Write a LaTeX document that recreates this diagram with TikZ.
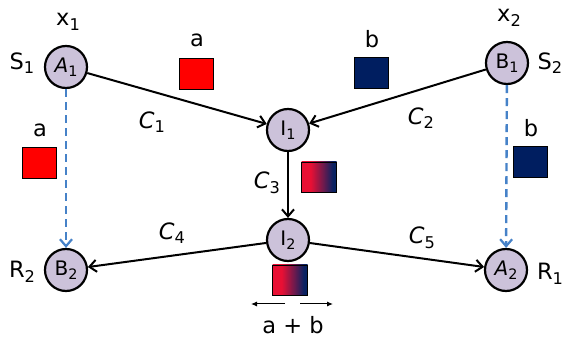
\documentclass[tikz,border=0pt]{standalone}
\usepackage{fontspec}
\setmainfont{DejaVu Sans}
\usetikzlibrary{arrows.meta}
\definecolor{mixred}{RGB}{232,16,52}
\definecolor{mixnavy}{RGB}{8,34,98}
\colorlet{mixmid}{mixred!45!mixnavy}
% red-to-navy mix used for the combined packet
\pgfdeclarehorizontalshading{mixshade}{100bp}{
  color(0bp)=(mixred); color(38bp)=(mixred); color(56bp)=(mixmid);
  color(70bp)=(mixnavy); color(100bp)=(mixnavy)}
\definecolor{nodefill}{RGB}{204,194,218}
\definecolor{pktred}{RGB}{255,0,0}
\definecolor{pktnavy}{RGB}{0,30,96}
\definecolor{dashblue}{RGB}{70,130,200}
% lowered index in the current text font
\newcommand\idx[1]{\raisebox{-0.38ex}{\scalebox{0.72}{\upshape #1}}}
\begin{document}
\begin{tikzpicture}[x=1pt,y=-1pt,
  router/.style={circle,draw=black,line width=2.2pt,fill=nodefill,minimum size=42pt,inner sep=0pt,font=\fontsize{20}{20}\selectfont},
  lbl/.style={font=\fontsize{22.5}{22.5}\selectfont,inner sep=0pt},
  clbl/.style={font=\fontsize{22.5}{22.5}\selectfont\itshape,inner sep=0pt},
  link/.style={line width=2pt,-{Straight Barb[length=7pt,width=12pt,line width=2pt]}},
  copyline/.style={dashblue,line width=2.4pt,dash pattern=on 8pt off 5pt,-{Straight Barb[length=7pt,width=12pt,line width=2.2pt]}},
  pkt/.style={draw=black,line width=0.7pt,minimum width=34pt,minimum height=31pt,inner sep=0pt},
  mixpkt/.style={draw=black,line width=0.7pt,minimum width=35pt,minimum height=30pt,inner sep=0pt,shading=mixshade},
  span/.style={line width=1pt,-{Latex[length=6pt,width=5pt]}}]
\useasboundingbox (0,0) rectangle (566,339);
\fill[white] (0,0) rectangle (566,339);

% routers
\node[router] (A1) at (66,67) {\textit{A}\idx{1}};
\node[router] (B1) at (507,63) {B\idx{1}};
\node[router] (I1) at (288,130) {I\idx{1}};
\node[router] (I2) at (288,240) {I\idx{2}};
\node[router] (B2) at (66,270) {B\idx{2}};
\node[router] (A2) at (506,270) {\textit{A}\idx{2}};

% router labels
\node[lbl] (x1) at (68,22) {x\idx{1}};
\node[lbl] (S1) at (22,63) {S\idx{1}};
\node[lbl] (x2) at (509,18) {x\idx{2}};
\node[lbl] (S2) at (550,63) {S\idx{2}};
\node[lbl] (R2) at (22,272) {R\idx{2}};
\node[lbl] (R1) at (550,274) {R\idx{1}};

% links
\draw[link] (A1) -- (I1);
\draw[link] (B1) -- (I1);
\draw[link] (I1) -- (I2);
\draw[link] (I2) -- (B2);
\draw[link] (I2) -- (A2);
\draw[copyline] (A1) -- (B2);
\draw[copyline] (B1) -- (A2);

% link labels
\node[clbl] (C1) at (152,122) {C\idx{1}};
\node[clbl] (C2) at (421,118) {C\idx{2}};
\node[clbl] (C3) at (267,183) {C\idx{3}};
\node[clbl] (C4) at (172,233) {C\idx{4}};
\node[clbl] (C5) at (422,238) {C\idx{5}};

% packets
\node[pkt,fill=pktred] (pa) at (196,74) {};
\node[lbl] (la) at (197,40) {a};
\node[pkt,fill=pktnavy] (pb) at (371,73) {};
\node[lbl] (lb) at (372,39) {b};
\node[pkt,fill=pktred] (pa2) at (39,163) {};
\node[lbl] (la2) at (40,130) {a};
\node[pkt,fill=pktnavy] (pb2) at (530,162) {};
\node[lbl] (lb2) at (531,128) {b};
\node[mixpkt] (m1) at (319,177) {};
\node[mixpkt] (m2) at (290,280) {};

% span of the combined packet
\coordinate (spl0) at (285,304);
\coordinate (spl) at (251,304);
\coordinate (spr0) at (300,304);
\coordinate (spr) at (333,304);
\draw[span] (spl0) -- (spl);
\draw[span] (spr0) -- (spr);
\node[lbl] (ab) at (293,325) {a + b};
\end{tikzpicture}
\end{document}
